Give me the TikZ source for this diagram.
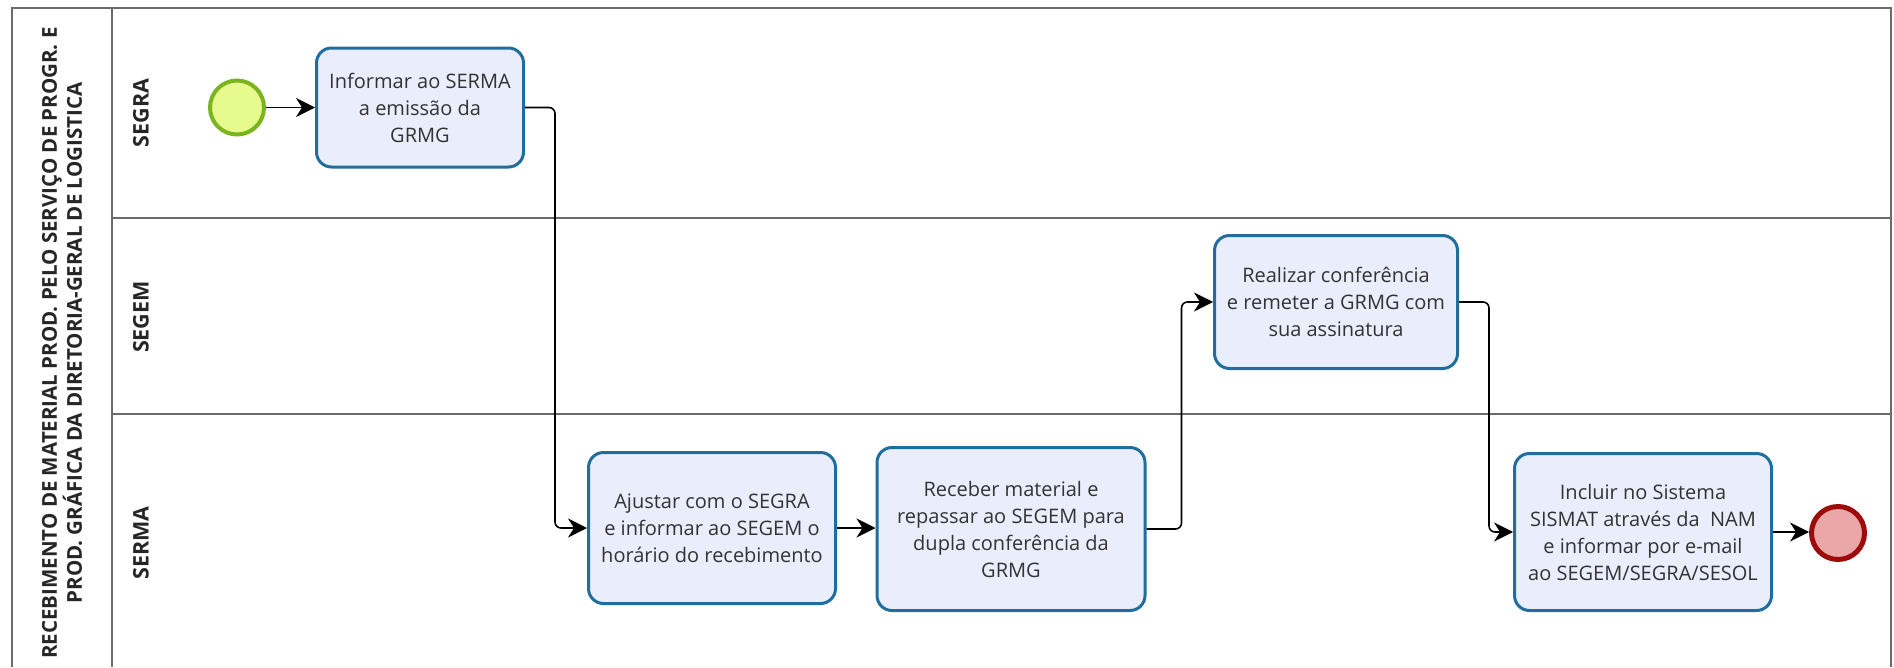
\documentclass[tikz,border=0pt]{standalone}
\usepackage{fontspec}
\setmainfont{Open Sans}
\usetikzlibrary{arrows.meta}
\definecolor{taskfill}{HTML}{EAEEFC}
\definecolor{taskdraw}{HTML}{1F6E9E}
\definecolor{startfill}{HTML}{E6FA8E}
\definecolor{startdraw}{HTML}{7AB51D}
\definecolor{endfill}{HTML}{EBA7A8}
\definecolor{enddraw}{HTML}{9E0B0B}
\definecolor{poolline}{HTML}{6B6B6B}
\definecolor{tasktext}{HTML}{333333}
\tikzset{
  poolstroke/.style={draw=poolline, line width=2pt},
  task/.style={draw=taskdraw, fill=taskfill, line width=3pt, rounded corners=15pt,
    align=center, text=tasktext, inner sep=2pt,
    font=\fontsize{20}{27}\selectfont},
  startev/.style={circle, draw=startdraw, fill=startfill, line width=4pt, minimum size=54pt, inner sep=0pt},
  endev/.style={circle, draw=enddraw, fill=endfill, line width=5pt, minimum size=53pt, inner sep=0pt},
  flow/.style={draw=black, line width=1.6pt, rounded corners=6pt,
    -{Stealth[length=19pt,width=19pt,inset=6pt]}},
  lanelabel/.style={rotate=90, font=\bfseries\fontsize{21.5}{24}\selectfont, text=black!85},
  pooltitle/.style={rotate=90, align=center, font=\bfseries\fontsize{20.5}{25}\selectfont, text=black!85}
}
\begin{document}
\begin{tikzpicture}[x=1pt,y=-1pt]
\useasboundingbox (0,0) rectangle (1894,667);
\fill[white] (0,0) rectangle (1894,667);
% pool and lanes
\draw[poolstroke] (12,667) -- (12,8) -- (1891,8) -- (1891,667);
\draw[poolstroke] (112,8) -- (112,667);
\draw[poolstroke] (112,218) -- (1891,218);
\draw[poolstroke] (112,414) -- (1891,414);
\node[pooltitle] (title) at (62,343) {RECEBIMENTO DE MATERIAL PROD. PELO SERVIÇO DE PROGR. E\\PROD. GRÁFICA DA DIRETORIA-GERAL DE LOGISTICA};
\node[lanelabel] (lsegra) at (141,113) {SEGRA};
\node[lanelabel] (lsegem) at (141,317) {SEGEM};
\node[lanelabel] (lserma) at (141,543) {SERMA};
% events and tasks
\node[startev] (start) at (237,107.5) {};
\node[task, minimum width=207pt, minimum height=119pt] (t1) at (420,107.5) {Informar ao SERMA\\a emissão da\\GRMG};
\node[task, minimum width=247pt, minimum height=151pt] (t2) at (712,528) {Ajustar com o SEGRA\\e informar ao SEGEM o\\horário do recebimento};
\node[task, minimum width=268pt, minimum height=163pt] (t3) at (1011,529) {Receber material e\\repassar ao SEGEM para\\dupla conferência da\\GRMG};
\node[task, minimum width=243pt, minimum height=133pt] (t4) at (1336,302) {Realizar conferência\\e remeter a GRMG com\\sua assinatura};
\node[task, minimum width=257pt, minimum height=157pt] (t5) at (1643,532) {Incluir no Sistema\\SISMAT através da \ NAM\\e informar por e-mail\\ao SEGEM/SEGRA/SESOL};
\node[endev] (end) at (1838,533) {};
% flows
\draw[flow] (start) -- (t1);
\draw[flow] (t1.east) -- ++(30,0) |- (t2.west);
\draw[flow] (t2.east) -- (t2.east -| t3.west);
\draw[flow] (t3.east) -- ++(35,0) |- (t4.west);
\draw[flow] (t4.east) -- ++(30,0) |- (t5.west);
\draw[flow] (t5.east) -- (t5.east -| end.west);
\end{tikzpicture}
\end{document}
